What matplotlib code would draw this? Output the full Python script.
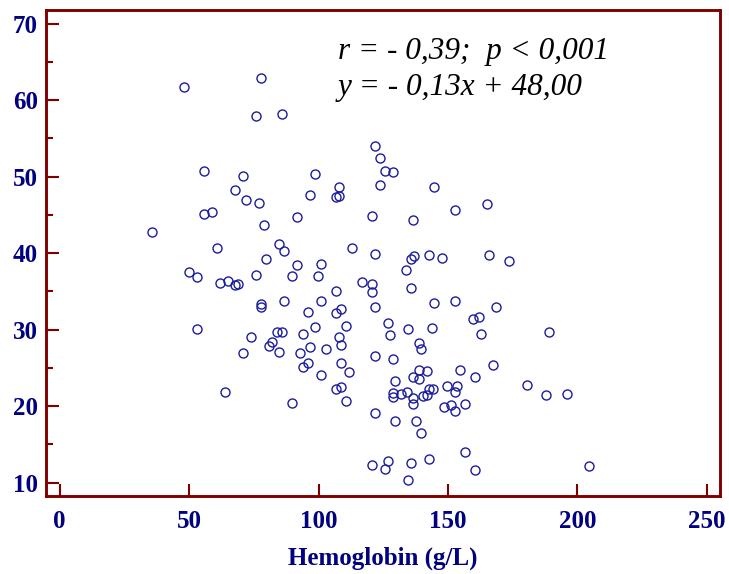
import matplotlib
matplotlib.use("Agg")
import matplotlib.pyplot as plt
from matplotlib.ticker import MultipleLocator

# values
hemoglobin = [
    47.9, 77.7, 75.7, 85.8, 55.6, 70.8, 98.6, 67.6, 71.9, 76.9,
    96.7, 55.6, 58.7, 91.6, 121.9, 123.8, 125.8, 128.9, 123.8, 144.7,
    107.9, 106.6, 108.0, 120.7, 136.6, 152.9, 165.0, 112.9, 121.9, 135.7,
    136.8, 142.8, 147.8, 165.8, 173.7, 133.8, 101.0, 91.6, 99.8, 116.8,
    120.7, 120.7, 106.8, 135.7, 35.8, 78.8, 60.7, 84.7, 86.7, 79.6,
    49.8, 53.1, 75.7, 89.8, 61.8, 65.0, 67.6, 68.9, 77.8, 77.8,
    86.7, 101.0, 95.9, 52.9, 84.0, 85.9, 73.9, 94.0, 98.6, 82.0,
    80.9, 84.7, 70.8, 92.8, 96.7, 102.8, 95.9, 94.0, 101.0, 63.9,
    89.8, 144.7, 152.7, 168.7, 108.7, 106.8, 121.9, 159.8, 161.9, 162.8,
    110.6, 126.9, 127.6, 134.6, 144.0, 107.9, 108.7, 138.9, 139.7, 121.9,
    128.9, 108.7, 111.8, 167.5, 154.8, 160.6, 138.8, 141.7, 136.5, 138.9,
    129.7, 180.7, 106.8, 108.7, 110.6, 149.8, 153.6, 152.9, 142.8, 144.2,
    128.7, 128.9, 132.0, 134.2, 136.6, 136.6, 140.5, 141.8, 148.5, 151.1,
    152.9, 156.7, 121.9, 129.7, 137.8, 139.7, 156.7, 160.6, 120.7, 127.0,
    125.8, 135.7, 142.8, 134.6, 187.8, 195.9, 204.6, 188.9,
]
value = [
    61.7, 62.9, 58.0, 58.2, 50.7, 50.1, 50.3, 48.3, 47.0, 46.6,
    47.6, 45.1, 45.4, 44.7, 54.0, 52.5, 50.7, 50.6, 48.9, 48.6,
    48.6, 47.4, 47.5, 44.9, 44.3, 45.6, 46.4, 40.7, 39.9, 39.3,
    39.6, 39.7, 39.4, 39.8, 39.0, 37.8, 38.6, 38.4, 37.0, 36.2,
    36.0, 34.9, 35.1, 35.4, 42.8, 43.7, 40.7, 41.2, 40.3, 39.2,
    37.5, 36.9, 37.1, 37.0, 36.1, 36.3, 35.8, 36.0, 33.3, 32.9,
    33.7, 33.8, 32.3, 30.1, 29.7, 29.7, 29.0, 29.4, 30.3, 28.4,
    27.9, 27.1, 27.0, 27.0, 27.7, 27.5, 25.7, 25.1, 24.1, 21.9,
    20.4, 33.5, 33.8, 33.0, 32.7, 32.2, 32.9, 31.4, 31.6, 29.4,
    30.5, 30.9, 29.3, 30.1, 30.2, 29.0, 28.0, 28.2, 27.5, 26.5,
    26.1, 25.6, 24.4, 25.4, 24.7, 23.8, 24.7, 24.6, 23.8, 23.6,
    23.3, 22.8, 22.3, 22.5, 20.7, 22.6, 22.6, 21.8, 22.2, 22.3,
    21.7, 21.2, 21.6, 21.9, 21.1, 20.3, 21.3, 21.4, 19.9, 20.1,
    19.4, 20.3, 19.1, 18.0, 18.0, 16.5, 14.0, 11.6, 12.3, 12.8,
    11.8, 12.5, 13.1, 10.3, 21.5, 21.6, 12.2, 29.7,
]
x_ticks = [0, 50, 100, 150, 200, 250]
y_ticks = [10, 20, 30, 40, 50, 60, 70]
line1 = "r = - 0,39;  p < 0,001"
line2 = "y = - 0,13x + 48,00"


def main():
    frame = "#800000"
    navy = "#000080"
    fig = plt.figure(figsize=(7.29, 5.74), dpi=100)
    ax = fig.add_axes([0.0631, 0.1359, 0.9246, 0.8467])

    ax.plot(hemoglobin, value, linestyle="none", marker="o", markersize=6.5,
            markerfacecolor="none", markeredgecolor="#1c1c9a", markeredgewidth=1.0)

    ax.set_xlim(-5.3, 255.1)
    ax.set_ylim(8.25, 71.8)
    ax.set_xticks(x_ticks)
    ax.set_yticks(y_ticks)
    ax.yaxis.set_minor_locator(MultipleLocator(5))

    for sp in ax.spines.values():
        sp.set_color(frame)
        sp.set_linewidth(2.1)

    ax.tick_params(axis="both", which="both", direction="in", color=frame,
                   width=1.5, labelcolor=navy, top=False, right=False)
    ax.tick_params(axis="y", which="major", length=9.5, pad=6)
    ax.tick_params(axis="y", which="minor", length=5)
    ax.tick_params(axis="x", which="major", length=9, pad=10)

    for lab in ax.get_xticklabels() + ax.get_yticklabels():
        lab.set_fontfamily("Liberation Serif")
        lab.set_fontweight("bold")
        lab.set_fontsize(18)

    ax.set_xlabel("Hemoglobin (g/L)", fontfamily="Liberation Serif", fontweight="bold",
                  fontsize=18, color=navy, labelpad=10)

    fig.text(338 / 729, 1 - 59.5 / 574, line1, fontfamily="Liberation Serif",
             style="italic", fontsize=22.5, color="black", va="baseline")
    fig.text(338 / 729, 1 - 95 / 574, line2, fontfamily="Liberation Serif",
             style="italic", fontsize=22.5, color="black", va="baseline")

    fig.savefig("out.png", dpi=100)


if __name__ == '__main__':
    main()
